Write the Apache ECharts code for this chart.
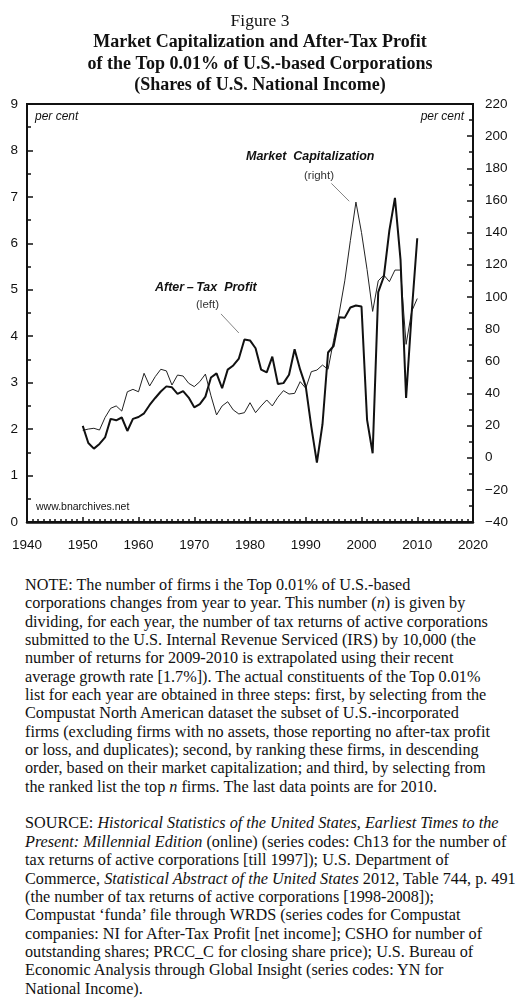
<!DOCTYPE html>
<html><head><meta charset="utf-8">
<script src="https://cdn.jsdelivr.net/npm/echarts@6/dist/echarts.min.js"></script>
<style>
html,body{margin:0;padding:0;background:#fff;}
#chart{position:absolute;left:0;top:0;width:520px;height:560px;}
#notes{position:absolute;left:25px;top:576px;width:495px;font-family:"Liberation Serif","Times New Roman",serif;font-size:16.2px;line-height:18.35px;color:#111;white-space:nowrap;}
</style></head><body>
<div id="chart"></div>
<div id="notes">NOTE: The number of firms i the Top 0.01% of U.S.-based<br>corporations changes from year to year. This number (<i>n</i>) is given by<br>dividing, for each year, the number of tax returns of active corporations<br>submitted to the U.S. Internal Revenue Serviced (IRS) by 10,000 (the<br>number of returns for 2009-2010 is extrapolated using their recent<br>average growth rate [1.7%]). The actual constituents of the Top 0.01%<br>list for each year are obtained in three steps: first, by selecting from the<br>Compustat North American dataset the subset of U.S.-incorporated<br>firms (excluding firms with no assets, those reporting no after-tax profit<br>or loss, and duplicates); second, by ranking these firms, in descending<br>order, based on their market capitalization; and third, by selecting from<br>the ranked list the top <i>n</i> firms. The last data points are for 2010.<br><br>SOURCE: <i>Historical Statistics of the United States, Earliest Times to the<br>Present: Millennial Edition</i> (online) (series codes: Ch13 for the number of<br>tax returns of active corporations [till 1997]); U.S. Department of<br>Commerce, <i>Statistical Abstract of the United States</i> 2012, Table 744, p. 491<br>(the number of tax returns of active corporations [1998-2008]);<br>Compustat ‘funda’ file through WRDS (series codes for Compustat<br>companies: NI for After-Tax Profit [net income]; CSHO for number of<br>outstanding shares; PRCC_C for closing share price); U.S. Bureau of<br>Economic Analysis through Global Insight (series codes: YN for<br>National Income).</div>
<script>
var years = [1950,1951,1952,1953,1954,1955,1956,1957,1958,1959,
             1960,1961,1962,1963,1964,1965,1966,1967,1968,1969,
             1970,1971,1972,1973,1974,1975,1976,1977,1978,1979,
             1980,1981,1982,1983,1984,1985,1986,1987,1988,1989,
             1990,1991,1992,1993,1994,1995,1996,1997,1998,1999,
             2000,2001,2002,2003,2004,2005,2006,2007,2008,2009,2010];
// After-tax profit, % of national income (left axis)
var afterTaxProfit = [2.07,1.70,1.58,1.68,1.82,2.22,2.19,2.25,1.96,2.22,
                      2.26,2.34,2.52,2.67,2.81,2.92,2.90,2.76,2.82,2.68,
                      2.47,2.54,2.70,3.11,3.20,2.88,3.28,3.37,3.52,3.93,
                      3.91,3.74,3.28,3.22,3.56,2.97,2.99,3.17,3.72,3.28,
                      2.92,2.05,1.28,2.10,3.65,3.79,4.41,4.40,4.62,4.66,
                      4.64,2.20,1.48,4.95,5.28,6.28,6.98,5.65,2.67,4.50,6.11];
// Market capitalization, % of national income (right axis)
var marketCap = [17.0,17.8,18.3,17.2,25.0,30.7,32.2,29.0,41.0,42.5,
                 41.0,52.5,44.6,50.4,55.0,54.0,45.2,51.4,50.8,46.3,
                 44.2,47.3,52.0,38.5,26.6,32.2,34.8,29.7,27.2,28.0,
                 34.2,28.0,32.2,35.9,32.2,37.6,41.7,39.6,40.0,47.3,
                 43.2,53.5,54.5,57.6,55.0,73.0,90.0,110.0,135.0,159.0,
                 140.0,117.0,91.0,110.0,113.6,109.5,116.7,116.7,70.5,91.0,99.0];
var leftTicks = [0,1,2,3,4,5,6,7,8,9];
var rightTicks = [-40,-20,0,20,40,60,80,100,120,140,160,180,200,220];
var xTicks = [1940,1950,1960,1970,1980,1990,2000,2010,2020];

function pairs(xs, ys){ return xs.map(function(x,i){ return [x, ys[i]]; }); }

var chart = echarts.init(document.getElementById('chart'), null, {renderer:'canvas'});
var sans = '"Liberation Sans", Arial, sans-serif';
var serif = '"Liberation Serif", "Times New Roman", serif';
var ink = '#111';

chart.setOption({
  animation: false,
  backgroundColor: '#fff',
  title: [
    {text: 'Figure 3', left: 'center', top: 7, textStyle: {fontFamily: serif, fontSize: 17.5, fontWeight: 'normal', color: ink}},
    {text: 'Market Capitalization and After-Tax Profit', left: 'center', top: 28.5, textStyle: {fontFamily: serif, fontSize: 18, fontWeight: 'bold', color: ink}},
    {text: 'of the Top 0.01% of U.S.-based Corporations', left: 'center', top: 50, textStyle: {fontFamily: serif, fontSize: 18, fontWeight: 'bold', color: ink}},
    {text: '(Shares of U.S. National Income)', left: 'center', top: 71, textStyle: {fontFamily: serif, fontSize: 18, fontWeight: 'bold', color: ink}}
  ],
  grid: {left: 27, right: 47, top: 104, bottom: 38, show: true, borderColor: ink, borderWidth: 2, containLabel: false},
  xAxis: {
    type: 'value', min: xTicks[0], max: xTicks[xTicks.length-1], interval: 10,
    axisLine: {show: true, lineStyle: {color: ink, width: 2.5}},
    axisTick: {show: true, inside: true, length: 5, lineStyle: {color: ink, width: 1.5}},
    minorTick: {show: true, splitNumber: 10, length: 3, lineStyle: {color: ink, width: 1.5}},
    splitLine: {show: false},
    axisLabel: {fontFamily: sans, fontSize: 13.5, color: ink, margin: 16, showMinLabel: true, showMaxLabel: true,
      formatter: function(v){ return String(v); }}
  },
  yAxis: [
    {
      type: 'value', position: 'left', min: leftTicks[0], max: leftTicks[leftTicks.length-1], interval: 1,
      axisLine: {show: true, lineStyle: {color: ink, width: 2}},
      axisTick: {show: true, inside: true, length: 6, lineStyle: {color: ink, width: 1.5}},
      minorTick: {show: true, splitNumber: 2, length: 4, lineStyle: {color: ink, width: 1.5}},
      splitLine: {show: false},
      axisLabel: {fontFamily: sans, fontSize: 13.5, color: ink, margin: 9}
    },
    {
      type: 'value', position: 'right', min: rightTicks[0], max: rightTicks[rightTicks.length-1], interval: 20,
      axisLine: {show: true, lineStyle: {color: ink, width: 2}},
      axisTick: {show: true, inside: true, length: 6, lineStyle: {color: ink, width: 1.5}},
      minorTick: {show: true, splitNumber: 2, length: 4, lineStyle: {color: ink, width: 1.5}},
      splitLine: {show: false},
      axisLabel: {fontFamily: sans, fontSize: 13.5, color: ink, margin: 12,
        formatter: function(v){ return v < 0 ? '\u2212' + Math.abs(v) : String(v); }}
    }
  ],
  series: [
    {
      name: 'Market Capitalization', type: 'line', yAxisIndex: 1, xAxisIndex: 0,
      data: pairs(years, marketCap), showSymbol: false, symbol: 'none',
      lineStyle: {color: '#222', width: 1}, z: 2,
      markLine: {silent: true, symbol: 'none', label: {show: false},
        lineStyle: {color: '#666', width: 0.8, type: 'solid'},
        data: [[{coord: [1994.6, 170.6]}, {coord: [1997.8, 159.5]}]]}
    },
    {
      name: 'After-Tax Profit', type: 'line', yAxisIndex: 0, xAxisIndex: 0,
      data: pairs(years, afterTaxProfit), showSymbol: false, symbol: 'none',
      lineStyle: {color: ink, width: 2}, z: 3,
      markLine: {silent: true, symbol: 'none', label: {show: false},
        lineStyle: {color: '#666', width: 0.8, type: 'solid'},
        data: [[{coord: [1974.8, 4.48]}, {coord: [1978.0, 4.07]}]]}
    }
  ],
  graphic: [
    {type: 'text', left: 35, top: 111, style: {text: 'per cent', font: 'italic 12px ' + sans, fill: ink}},
    {type: 'text', right: 56, top: 111, style: {text: 'per cent', font: 'italic 12px ' + sans, fill: ink}},
    {type: 'text', left: 246, top: 150, style: {text: 'Market  Capitalization', font: 'italic bold 12.5px ' + sans, fill: ink}},
    {type: 'text', left: 304, top: 170, style: {text: '(right)', font: '11.5px ' + sans, fill: '#333'}},
    {type: 'text', left: 155, top: 281, style: {text: 'After\u2009\u2013\u2009Tax  Profit', font: 'italic bold 12.5px ' + sans, fill: ink}},
    {type: 'text', left: 196, top: 299, style: {text: '(left)', font: '11.5px ' + sans, fill: '#333'}},
    {type: 'text', left: 36, top: 502, style: {text: 'www.bnarchives.net', font: '10.5px ' + sans, fill: ink}}
  ]
});
</script>
</body></html>
